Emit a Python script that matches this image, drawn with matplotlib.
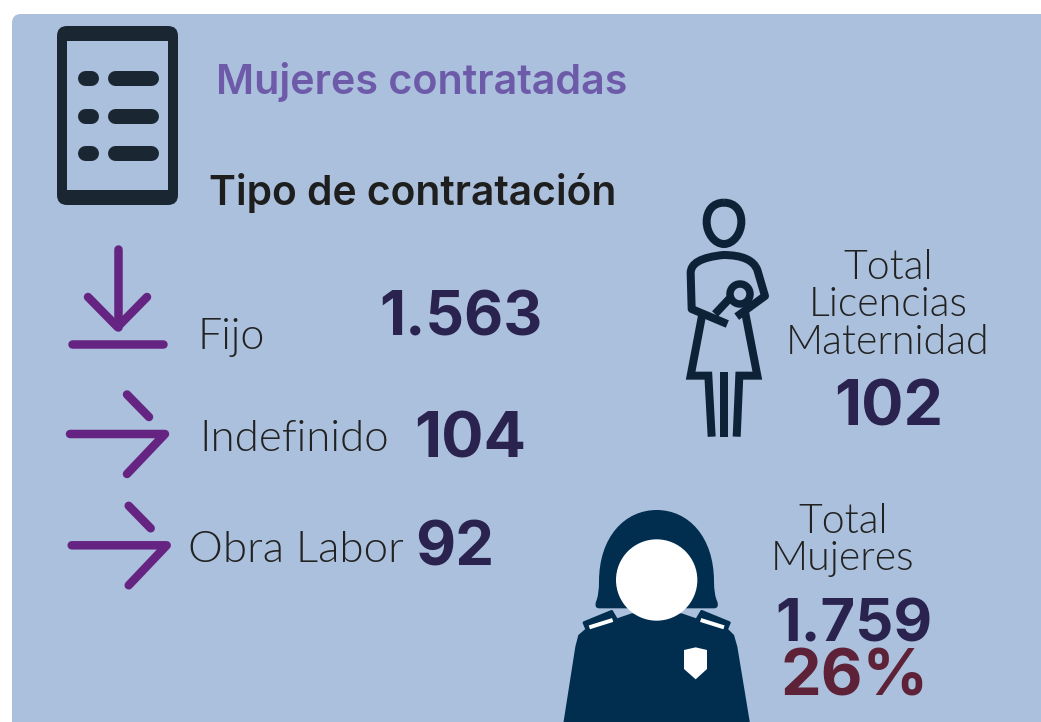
import matplotlib
matplotlib.use("Agg")
import matplotlib.pyplot as plt
from matplotlib.patches import FancyBboxPatch, Rectangle, Circle, Polygon, PathPatch
from matplotlib.path import Path

# ---- data ----
title = "Mujeres contratadas"
subtitle = "Tipo de contratación"
contract_types = ["Fijo", "Indefinido", "Obra Labor"]
contract_values = [1563, 104, 92]
maternity_label = ["Total", "Licencias", "Maternidad"]
maternity_value = 102
women_label = ["Total", "Mujeres"]
women_value = 1759
women_share = "26%"

# ---- style ----
BG = "#ABC0DC"
NUM = "#2A2350"
PURPLE = "#662482"
DOC = "#1B2633"
MOTHER = "#0D2236"
OFFICER = "#012D4F"
LIGHT_FONT = ["Lato", "DejaVu Sans"]
BOLD_FONT = ["Inter", "DejaVu Sans"]


def fmt(v):
    return f"{v:,}".replace(",", ".")


fig = plt.figure(figsize=(10.41, 7.22), dpi=100, facecolor="white")
ax = fig.add_axes([0, 0, 1, 1])
ax.set_xlim(0, 1041)
ax.set_ylim(722, 0)
ax.axis("off")

ax.add_patch(FancyBboxPatch((12, 14), 1100, 800, boxstyle="round,pad=0,rounding_size=9",
                            fc=BG, ec="none", zorder=0))
renderer = fig.canvas.get_renderer()


def fit(s, x0, x1, base, color, family, weight, pad=1.5):
    x0, x1 = x0 - pad, x1 + pad
    t = ax.text(x0, base, s, color=color, family=family, weight=weight, fontsize=30,
                ha="left", va="baseline", zorder=5)
    w = t.get_window_extent(renderer).width
    t.set_fontsize(30 * (x1 - x0) / w)
    return t


def stroke(pts, color, w, cap="round", join="round", z=3):
    xs, ys = zip(*pts)
    ax.plot(xs, ys, color=color, lw=w * 0.72, solid_capstyle=cap, solid_joinstyle=join, zorder=z)


# ---- headings ----
fit(title, 217, 627, 94, "#6D5BAA", BOLD_FONT, 600, pad=0.5)
fit(subtitle, 210, 615, 205, "#1E1E1E", BOLD_FONT, 600, pad=1)

# ---- contract rows ----
label_x = [(199, 263, 349), (201, 387, 451), (190, 402, 562)]
value_x = [(380, 541, 336), (415, 525, 458), (416, 493, 565)]
for name, val, lx, vx in zip(contract_types, contract_values, label_x, value_x):
    fit(name, lx[0], lx[1], lx[2], "#222222", LIGHT_FONT, 300)
    fit(fmt(val), vx[0], vx[1], vx[2], NUM, BOLD_FONT, 700, pad=1)

# ---- maternity ----
for s, b in zip(maternity_label, (279, 316, 354)):
    ax.text(888, b, s, color="#222222", family=LIGHT_FONT, weight=300, fontsize=29.5,
            ha="center", va="baseline", zorder=5)
fit(fmt(maternity_value), 835, 942, 425, NUM, BOLD_FONT, 700, pad=1)

# ---- total women ----
for s, b in zip(women_label, (533, 570)):
    ax.text(843, b, s, color="#222222", family=LIGHT_FONT, weight=300, fontsize=29.5,
            ha="center", va="baseline", zorder=5)
fit(fmt(women_value), 776, 931, 642, NUM, BOLD_FONT, 700, pad=1)
fit(women_share, 785, 924, 696, "#5E2238", BOLD_FONT, 700, pad=4.5)

# ---- document icon ----
ax.add_patch(FancyBboxPatch((57, 26), 121, 179, boxstyle="round,pad=0,rounding_size=10",
                            fc=DOC, ec="none", zorder=2))
ax.add_patch(Rectangle((67, 41), 101, 149, fc=BG, ec="none", zorder=2.5))
for y in (78, 116, 153):
    stroke([(84.5, y), (90.5, y)], DOC, 15)
    stroke([(115, y), (150.5, y)], DOC, 15)

# ---- arrows ----
W = 8.5
stroke([(117.5, 249), (117.5, 327)], PURPLE, W)
stroke([(88, 297), (117.5, 327), (147, 297)], PURPLE, W)
stroke([(72, 344), (163, 344)], PURPLE, W)
for dx, dy in ((0, 0), (1.7, 111.3)):
    stroke([(70 + dx, 434 + dy), (165 + dx, 434 + dy), (127 + dx, 474 + dy)], PURPLE, W)
    stroke([(127 + dx, 394.5 + dy), (149 + dx, 417 + dy)], PURPLE, W)


# ---- mother icon (crop coords x3) ----
def m(x, y):
    return (670 + x / 3, 190 + y / 3)


MW = 8
hx = Path([m(*p) for p in [(162, 38), (195, 38), (214, 62), (214, 95), (214, 130), (190, 162), (162, 162),
                           (134, 162), (110, 130), (110, 95), (110, 62), (129, 38), (162, 38)]],
          [Path.MOVETO] + [Path.CURVE4] * 12)
ax.add_patch(PathPatch(hx, fc="none", ec=MOTHER, lw=MW * 0.72, zorder=3))
body = Path([m(*p) for p in [(172, 402), (65, 357), (62, 250), (60, 205), (160, 195), (245, 195), (262, 240),
                             (285, 318), (200, 380)]],
            [Path.MOVETO, Path.LINETO, Path.LINETO, Path.CURVE3, Path.CURVE3, Path.CURVE3, Path.CURVE3,
             Path.LINETO, Path.LINETO])
ax.add_patch(PathPatch(body, fc="none", ec=MOTHER, lw=MW * 0.72, capstyle="butt", joinstyle="round", zorder=3))
ax.add_patch(Circle(m(210, 312), 30 / 3, fc="none", ec=MOTHER, lw=7.5 * 0.72, zorder=3))
stroke([m(135, 372), m(182, 322)], MOTHER, MW, cap="butt")
stroke([m(97, 372), m(62, 557), m(115, 557), m(125, 740)], MOTHER, MW, cap="butt", join="miter")
stroke([m(225, 365), m(262, 557), m(208, 557), m(200, 740)], MOTHER, MW, cap="butt", join="miter")
stroke([m(162, 545), m(162, 742)], MOTHER, MW, cap="butt")


# ---- officer icon (crop coords x3) ----
def o(x, y):
    return (550 + x / 3, 500 + y / 3)


hair = Path([o(*p) for p in [(148, 325), (132, 325), (138, 305), (147, 285), (147, 245),
                             (147, 110), (225, 30), (320, 30), (415, 30), (492, 110), (492, 245),
                             (492, 285), (502, 305), (508, 325), (492, 325), (148, 325)]],
            [Path.MOVETO, Path.CURVE3, Path.CURVE3, Path.CURVE3, Path.CURVE3,
             Path.CURVE4, Path.CURVE4, Path.CURVE4, Path.CURVE4, Path.CURVE4, Path.CURVE4,
             Path.CURVE3, Path.CURVE3, Path.CURVE3, Path.CURVE3, Path.LINETO])
ax.add_patch(PathPatch(hair, fc=OFFICER, ec="none", zorder=3))
ax.add_patch(Polygon([o(*p) for p in [(40, 670), (76, 440), (85, 405), (105, 388), (245, 340), (395, 340),
                                      (535, 388), (552, 405), (562, 440), (600, 670)]],
                     fc=OFFICER, ec="none", zorder=3))
ax.add_patch(Circle(o(320, 240), 122 / 3, fc="white", ec="none", zorder=4))
for pts, st in (([(102, 368), (185, 334), (198, 356), (112, 392)], [(118, 382), (188, 360)]),
                ([(455, 334), (538, 368), (528, 392), (442, 356)], [(452, 360), (522, 382)])):
    ax.add_patch(Polygon([o(*p) for p in pts], fc=OFFICER, ec=OFFICER, lw=2, joinstyle="round", zorder=3.5))
    stroke([o(*st[0]), o(*st[1])], "white", 4, cap="butt", z=4)
ax.add_patch(Polygon([o(*p) for p in [(402, 450), (437, 442), (471, 450), (471, 507), (437, 538), (402, 507)]],
                     fc="white", ec="none", zorder=4))

fig.savefig("out.png", dpi=100, facecolor="white")
